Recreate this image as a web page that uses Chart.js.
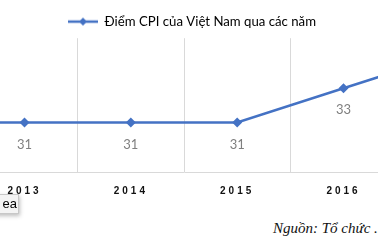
<!DOCTYPE html>
<html>
<head>
<meta charset="utf-8">
<script src="https://cdn.jsdelivr.net/npm/chart.js@4/dist/chart.umd.min.js"></script>
<style>
  html, body { margin: 0; padding: 0; background: #fff; overflow: hidden; width: 378px; height: 252px; }
  #wrap { position: absolute; left: -140px; top: 0; width: 664px; height: 210px; }
  #source { position: absolute; left: 273px; top: 220px; font: italic 15px "Liberation Serif", serif; color: #111; white-space: nowrap; }
  #tip { position: absolute; left: -20px; top: 194px; width: 36px; height: 18px; background: #f4f4f4; border: 1px solid #c8c8c8; box-shadow: 1px 2px 4px rgba(0,0,0,0.25); font: 13px "Liberation Sans", sans-serif; line-height: 18px; text-align: right; padding-right: 1px; color: #000; }
</style>
</head>
<body>
<div id="wrap"><canvas id="cpiChart"></canvas></div>
<div id="tip">ea</div>
<div id="source">Nguồn: Tổ chức ...</div>
<script>
const years = ['2012', '2013', '2014', '2015', '2016', '2017'];
const cpiScores = [31, 31, 31, 31, 33, 35];
const seriesName = 'Điểm CPI của Việt Nam qua các năm';

const blue = '#4472c4';

// legend marker: line with a diamond in the middle
const marker = document.createElement('canvas');
marker.width = 30;
marker.height = 10;
const mctx = marker.getContext('2d');
mctx.strokeStyle = blue;
mctx.lineWidth = 2.5;
mctx.beginPath();
mctx.moveTo(0, 5);
mctx.lineTo(30, 5);
mctx.stroke();
mctx.fillStyle = blue;
mctx.beginPath();
mctx.moveTo(15, 1);
mctx.lineTo(19, 5);
mctx.lineTo(15, 9);
mctx.lineTo(11, 5);
mctx.closePath();
mctx.fill();

// value labels under points, then spaced letters for the year ticks
const valueLabels = {
  id: 'valueLabels',
  afterDatasetsDraw(chart) {
    const ctx = chart.ctx;
    const meta = chart.getDatasetMeta(0);
    ctx.save();
    ctx.font = '13px Lato, "Open Sans", sans-serif';
    ctx.fillStyle = '#7f7f7f';
    ctx.textAlign = 'center';
    ctx.textBaseline = 'middle';
    meta.data.forEach((pt, i) => {
      ctx.fillText(cpiScores[i], pt.x, pt.y + 22);
    });
    ctx.restore();
    ctx.letterSpacing = '3px';
  },
  afterDraw(chart) {
    chart.ctx.letterSpacing = '0px';
  }
};

const ctx = document.getElementById('cpiChart').getContext('2d');
new Chart(ctx, {
  type: 'line',
  data: {
    labels: years,
    datasets: [{
      label: seriesName,
      data: cpiScores,
      borderColor: blue,
      backgroundColor: blue,
      borderWidth: 2.5,
      pointStyle: 'rectRot',
      pointRadius: 5,
      pointBackgroundColor: blue,
      pointBorderWidth: 0,
      tension: 0
    }]
  },
  options: {
    responsive: true,
    maintainAspectRatio: false,
    animation: false,
    layout: { padding: { top: 6, bottom: 0, left: 0, right: 0 } },
    plugins: {
      legend: {
        display: true,
        labels: {
          usePointStyle: true,
          pointStyleWidth: 30,
          padding: 9,
          color: '#111',
          font: { size: 13.2, family: 'Lato, "Open Sans", sans-serif' },
          generateLabels: (chart) => [{
            text: seriesName,
            pointStyle: marker,
            fillStyle: blue,
            strokeStyle: blue,
            lineWidth: 0,
            datasetIndex: 0
          }]
        }
      },
      tooltip: { enabled: false }
    },
    scales: {
      x: {
        offset: true,
        grid: {
          offset: true,
          color: '#d9d9d9',
          lineWidth: 1,
          drawTicks: false
        },
        border: { display: true, color: '#d9d9d9', width: 1 },
        ticks: {
          z: 1,
          padding: 13,
          color: '#111',
          font: { size: 10, weight: 'bold', family: '"Liberation Sans", Arial, sans-serif' }
        }
      },
      y: {
        position: 'right',
        min: 28.09,
        max: 35.94,
        grid: { display: false },
        border: { display: false },
        ticks: { display: false },
        afterFit(scale) { scale.width = 21; }
      }
    }
  },
  plugins: [valueLabels]
});
</script>
</body>
</html>
